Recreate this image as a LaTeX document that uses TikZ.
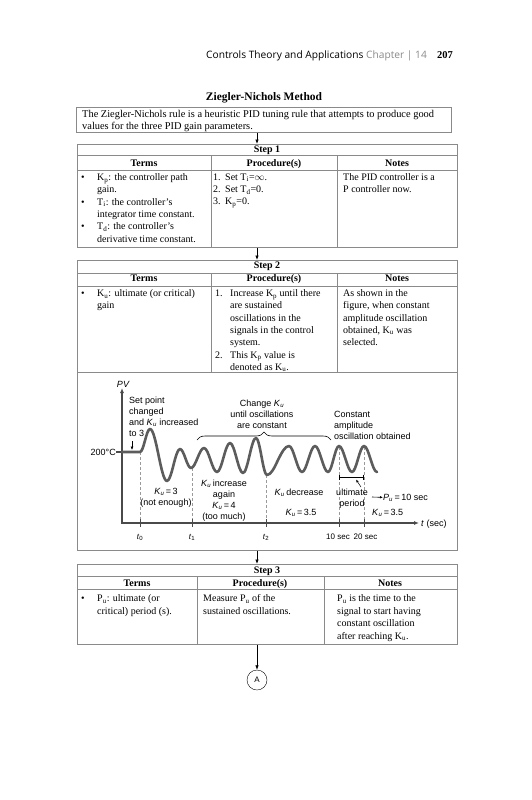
\documentclass[tikz,border=0pt]{standalone}
\usepackage{fontspec}
\setmainfont{Liberation Serif}
\setsansfont{Liberation Sans}
\newfontfamily\headfont{Open Sans}
\usetikzlibrary{arrows.meta, decorations.pathreplacing, calc, positioning}
\definecolor{rulegray}{HTML}{8A8A8A}
\definecolor{wavegray}{HTML}{5C5C5C}
\definecolor{axisgray}{HTML}{4A4A4A}
\definecolor{dashgray}{HTML}{9A9A9A}
\newcommand{\Ksub}[2]{\textit{#1}\textsubscript{\textit{#2}}}

\tikzset{
  tablebox/.style={draw=rulegray, line width=0.8pt, inner sep=0pt, anchor=north west},
  cellrule/.style={rulegray, line width=0.7pt},
  celltext/.style={inner sep=0pt, anchor=north west, align=left, font=\fontsize{10}{12.3}\selectfont},
  headtext/.style={inner sep=0pt, anchor=base, font=\fontsize{10}{12}\selectfont\bfseries},
  flowarrow/.style={-{Latex[length=4.5pt,width=3.5pt]}, line width=0.7pt},
  graphtext/.style={inner sep=0pt, font=\sffamily\fontsize{9}{11}\selectfont},
  ticktext/.style={inner sep=0pt, font=\sffamily\fontsize{8}{10}\selectfont},
  wave/.style={wavegray, line width=2.6pt, line join=round, line cap=round},
  axisline/.style={axisgray, line width=1.6pt},
  tdash/.style={dashgray, line width=0.8pt, dash pattern=on 3pt off 2pt},
}

\begin{document}
\begin{tikzpicture}[x=1pt,y=-1pt]
  \useasboundingbox[fill=white] (0,0) rectangle (531,800);
  \coordinate (flowx) at (257,0);

  \node[inner sep=0pt, anchor=base east, font=\headfont\fontsize{10.2}{11}\selectfont] (runhead) at (453,59)
    {Controls Theory and Applications\ \textcolor{rulegray}{Chapter\ \textbar\ 14}\quad{\rmfamily\bfseries\fontsize{10.5}{11}\selectfont 207}};
  \node[inner sep=0pt, anchor=base, font=\fontsize{11.5}{12}\selectfont\bfseries] (title) at (264,100) {Ziegler-Nichols Method};

  % intro box
  \node[tablebox, minimum width=375pt, minimum height=25pt] (intro) at (76,107) {};
  \node[celltext, font=\fontsize{10.4}{11.6}\selectfont] (introtxt) at (82,110)
    {The Ziegler-Nichols rule is a heuristic PID tuning rule that attempts to produce good\\values for the three PID gain parameters.};

  % step 1
  \node[tablebox, minimum width=380pt, minimum height=103pt] (step1) at (77,144) {};
  \draw[cellrule] (77,155) -- (457,155) (77,170) -- (457,170) (211,155) -- (211,247) (337,155) -- (337,247);
  \node[headtext] (s1head) at (267,152.5) {Step 1};
  \node[headtext] (s1terms) at (144,166.5) {Terms};
  \node[headtext] (s1proc) at (274,166.5) {Procedure(s)};
  \node[headtext] (s1notes) at (397,166.5) {Notes};
  \node[celltext] (s1termtxt) at (81,173.5)
    {\makebox[16pt][l]{\textbullet}K\textsubscript{p}: the controller path\\\hspace*{16pt}gain.\\
     \makebox[16pt][l]{\textbullet}T\textsubscript{i}: the controller's\\\hspace*{16pt}integrator time constant.\\
     \makebox[16pt][l]{\textbullet}T\textsubscript{d}: the controller's\\\hspace*{16pt}derivative time constant.};
  \node[celltext] (s1proctxt) at (213,173.5)
    {\makebox[12pt][l]{1.}Set T\textsubscript{i}=$\infty$.\\\makebox[12pt][l]{2.}Set T\textsubscript{d}=0.\\\makebox[12pt][l]{3.}K\textsubscript{p}=0.};
  \node[celltext] (s1notetxt) at (343,173.5) {The PID controller is a\\P controller now.};

  % step 2
  \node[tablebox, minimum width=380pt, minimum height=290pt] (step2) at (77,260) {};
  \draw[cellrule] (77,273) -- (457,273) (77,286) -- (457,286) (77,372) -- (457,372)
    (211,273) -- (211,372) (337,273) -- (337,372);
  \node[headtext] (s2head) at (267,268.5) {Step 2};
  \node[headtext] (s2terms) at (144,281.5) {Terms};
  \node[headtext] (s2proc) at (274,281.5) {Procedure(s)};
  \node[headtext] (s2notes) at (397,281.5) {Notes};
  \node[celltext] (s2termtxt) at (81,289.4)
    {\makebox[16pt][l]{\textbullet}K\textsubscript{u}: ultimate (or critical)\\\hspace*{16pt}gain};
  \node[celltext] (s2proctxt) at (215,289.4)
    {\makebox[15pt][l]{1.}Increase K\textsubscript{p} until there\\\hspace*{15pt}are sustained\\\hspace*{15pt}oscillations in the\\
     \hspace*{15pt}signals in the control\\\hspace*{15pt}system.\\\makebox[15pt][l]{2.}This K\textsubscript{p} value is\\
     \hspace*{15pt}denoted as K\textsubscript{u}.};
  \node[celltext] (s2notetxt) at (343,289.4)
    {As shown in the\\figure, when constant\\amplitude oscillation\\obtained, K\textsubscript{u} was\\selected.};

  % graph
  \coordinate (pvtop) at (122,388);
  \coordinate (origin) at (122,523);
  \coordinate (tend) at (419,523);
  \draw[axisline, {Latex[length=5pt,width=4pt]}-{Latex[length=5pt,width=4pt]}] (pvtop) -- (origin) -- (tend);
  \draw[axisline] (116,452) -- (122,452);
  \foreach \tx/\ty/\lx/\tname/\tlabel in {140/452/140/t0/\textit{t}\textsubscript{0}, 192/468/192/t1/\textit{t}\textsubscript{1},
      266/475/266/t2/\textit{t}\textsubscript{2}, 339/447/338/tten/10 sec, 364/447/365.5/ttwenty/20 sec} {
    \draw[tdash] (\tx,\ty) -- (\tx,523);
    \draw[axisgray, line width=0.8pt] (\tx,519) -- (\tx,527);
    \node[ticktext, anchor=base] (\tname) at (\lx,539) {\tlabel};
  }
  \draw[wave] (122,452) -- (140,452)
    \foreach \mx/\my/\ex/\ey in {145/440.5/150/429, 158.5/455/167/481, 173.5/465/180/449, 185.5/458.5/191/468,
      197.5/458/204/448, 210.5/460/217/472, 223.5/457.5/230/443, 236.5/458/243/473, 249.5/455.5/256/438,
      261.5/456.5/267/475, 278/460/289/446, 295.5/459/302/472, 308.5/459/315/446, 321.5/459/328/472,
      333.5/459/339/446, 345.5/459/352/472, 358/459/364/446, 370.5/459/377/472} { cos (\mx,\my) sin (\ex,\ey) };

  \node[graphtext, anchor=base, font=\sffamily\itshape\fontsize{9}{11}\selectfont] (pvlabel) at (123,387) {PV};
  \node[graphtext, anchor=base east] (tempval) at (116,455.5) {200°C};
  \node[graphtext, anchor=base west] (tlabel) at (421,526.5) {\textit{t} (sec)};
  \node[graphtext, anchor=north west, align=left] (setpt) at (129,397)
    {Set point\\changed\\and \Ksub{K}{u} increased\\to 3};
  \coordinate (setarrow) at (132,441);
  \coordinate (setflat) at (132,450);
  \draw[-{Latex[length=3.5pt,width=3pt]}, line width=0.6pt] (setarrow) -- (setflat);
  \node[graphtext, anchor=north, align=center] (changeku) at (262,399.5) {Change \Ksub{K}{u}\\until oscillations\\are constant};
  \coordinate (braceL) at (197,440);
  \coordinate (braceR) at (331,440);
  \draw[decorate, decoration={brace, amplitude=8pt}, line width=0.6pt] (braceL) -- (braceR);
  \node[graphtext, anchor=north west, align=left] (constamp) at (334,411.5) {Constant\\amplitude\\oscillation obtained};
  \node[graphtext, anchor=north, align=center] (notenough) at (166,488.5) {\Ksub{K}{u}\,=\,3\\(not enough)};
  \node[graphtext, anchor=north, align=center] (toomuch) at (224,479.5) {\Ksub{K}{u}\,increase\\again\\\Ksub{K}{u}\,=\,4\\(too much)};
  \node[graphtext, anchor=base] (decrease) at (299,495) {\Ksub{K}{u}\,decrease};
  \node[graphtext, anchor=base] (kuleft) at (301,515) {\Ksub{K}{u}\,=\,3.5};
  \node[graphtext, anchor=north, align=center] (ultper) at (352,488.5) {ultimate\\period};
  \coordinate (perL) at (339,477);
  \coordinate (perR) at (364,477);
  \draw[{Bar[width=5pt]}-{Bar[width=5pt]}, line width=0.8pt] (perL) -- (perR);
  \coordinate (ultarrow) at (361,487);
  \coordinate (ultbar) at (356,479.5);
  \draw[-{Latex[length=3pt,width=2.5pt]}, line width=0.5pt] (ultarrow) -- (ultbar);
  \node[graphtext, anchor=base west] (puval) at (383,500) {\Ksub{P}{u}\,=\,10 sec};
  \coordinate (puarrow) at (372,497);
  \draw[-{Latex[length=3pt,width=2.5pt]}, line width=0.6pt] (puarrow) -- (puval.west);
  \node[graphtext, anchor=base west] (kuright) at (372,515) {\Ksub{K}{u}\,=\,3.5};

  % step 3
  \node[tablebox, minimum width=380pt, minimum height=80pt] (step3) at (77,564) {};
  \draw[cellrule] (77,576) -- (457,576) (77,589) -- (457,589) (197,576) -- (197,644) (324,576) -- (324,644);
  \node[headtext] (s3head) at (267,573.5) {Step 3};
  \node[headtext] (s3terms) at (137,586.5) {Terms};
  \node[headtext] (s3proc) at (260,586.5) {Procedure(s)};
  \node[headtext] (s3notes) at (390,586.5) {Notes};
  \node[celltext, font=\fontsize{10}{12.5}\selectfont] (s3termtxt) at (81,594.4)
    {\makebox[16pt][l]{\textbullet}P\textsubscript{u}: ultimate (or\\\hspace*{16pt}critical) period (s).};
  \node[celltext, font=\fontsize{10}{12.5}\selectfont] (s3proctxt) at (203,594.4)
    {Measure P\textsubscript{u} of the\\sustained oscillations.};
  \node[celltext, font=\fontsize{10}{12.5}\selectfont] (s3notetxt) at (337,594.4)
    {P\textsubscript{u} is the time to the\\signal to start having\\constant oscillation\\after reaching K\textsubscript{u}.};

  \node[draw, circle, minimum size=20pt, inner sep=0pt, font=\sffamily\fontsize{8}{8}\selectfont] (conA) at (257,680) {A};

  \draw[flowarrow] (intro.south -| flowx) -- (step1.north -| flowx);
  \draw[flowarrow] (step1.south -| flowx) -- (step2.north -| flowx);
  \draw[flowarrow] (step2.south -| flowx) -- (step3.north -| flowx);
  \draw[flowarrow] (step3.south -| flowx) -- (conA.north);
\end{tikzpicture}
\end{document}
